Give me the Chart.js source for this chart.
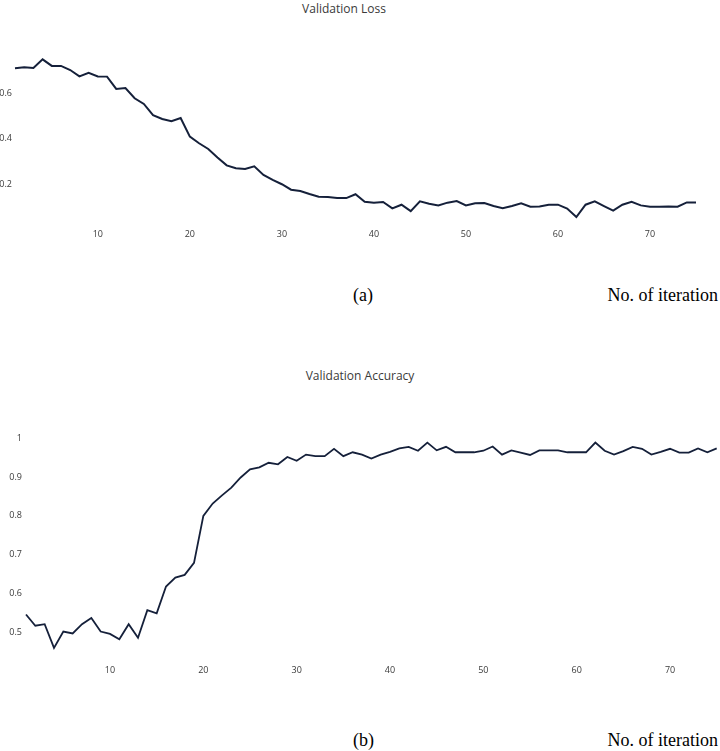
<!DOCTYPE html>
<html lang="en">
<head>
    <meta charset="UTF-8">
    <title>Validation Loss / Accuracy</title>
    <script src="https://cdn.jsdelivr.net/npm/chart.js"></script>
    <style>
        body { margin: 0; background: #fff; }
        .page { position: relative; width: 720px; height: 751px; overflow: hidden; }
        .page canvas { position: absolute; left: 0; }
        .title { position: absolute; transform: translate(-50%, -50%); font-family: "Open Sans", sans-serif; font-size: 12px; color: #3a3a3a; white-space: nowrap; }
        .caption { position: absolute; transform: translateY(-50%); font-family: "Liberation Serif", "Times New Roman", serif; font-size: 18px; color: #000; white-space: nowrap; }
    </style>
</head>
<body>
<div class="page">
    <div class="title" style="left:344px; top:8px;">Validation Loss</div>
    <canvas id="lossChart" width="720" height="250" style="top:0;"></canvas>
    <div class="caption" style="left:353px; top:295px;">(a)</div>
    <div class="caption" style="right:2px; top:295px;">No. of iteration</div>

    <div class="title" style="left:360px; top:375px;">Validation Accuracy</div>
    <canvas id="accChart" width="720" height="320" style="top:360px;"></canvas>
    <div class="caption" style="left:353px; top:740px;">(b)</div>
    <div class="caption" style="right:2px; top:740px;">No. of iteration</div>
</div>

<script>
    // valeurs
    const lossValues = [0.709, 0.713, 0.71, 0.748, 0.719, 0.719, 0.701, 0.673, 0.689, 0.673,
        0.672, 0.618, 0.622, 0.577, 0.552, 0.503, 0.486, 0.476, 0.49, 0.408,
        0.379, 0.354, 0.317, 0.282, 0.269, 0.266, 0.278, 0.24, 0.218, 0.199,
        0.175, 0.169, 0.156, 0.144, 0.143, 0.138, 0.138, 0.155, 0.122, 0.118,
        0.121, 0.093, 0.109, 0.081, 0.124, 0.113, 0.106, 0.118, 0.125, 0.106,
        0.115, 0.116, 0.103, 0.094, 0.103, 0.115, 0.1, 0.101, 0.109, 0.109,
        0.092, 0.055, 0.109, 0.124, 0.103, 0.083, 0.109, 0.122, 0.106, 0.1,
        0.1, 0.101, 0.1, 0.119, 0.119];

    const accValues = [0.546, 0.517, 0.521, 0.46, 0.502, 0.497, 0.521, 0.537, 0.502, 0.496,
        0.482, 0.521, 0.486, 0.557, 0.549, 0.618, 0.641, 0.648, 0.679, 0.8,
        0.832, 0.853, 0.873, 0.899, 0.92, 0.925, 0.937, 0.933, 0.952, 0.942,
        0.958, 0.954, 0.954, 0.973, 0.954, 0.964, 0.958, 0.948, 0.958, 0.965,
        0.974, 0.978, 0.968, 0.989, 0.969, 0.978, 0.964, 0.964, 0.964, 0.968,
        0.979, 0.958, 0.969, 0.963, 0.957, 0.969, 0.969, 0.969, 0.964, 0.964,
        0.964, 0.989, 0.968, 0.958, 0.967, 0.978, 0.973, 0.958, 0.965, 0.973,
        0.963, 0.963, 0.974, 0.964, 0.974];

    const xTicks = [10, 20, 30, 40, 50, 60, 70];
    const lossTicks = [0.2, 0.4, 0.6];
    const accTicks = [0.5, 0.6, 0.7, 0.8, 0.9, 1];

    const tickFont = { family: '"Open Sans", sans-serif', size: 9 };
    const tickColor = '#3a3a3a';

    function toPoints(values) {
        return values.map((v, i) => ({ x: i + 1, y: v }));
    }

    function makeChart(id, values, yTicks, opts) {
        const ctx = document.getElementById(id).getContext('2d');
        return new Chart(ctx, {
            type: 'line',
            data: {
                datasets: [{
                    data: toPoints(values),
                    borderColor: '#15203a',
                    borderWidth: opts.lineWidth,
                    pointRadius: 0,
                    tension: 0,
                    clip: false
                }]
            },
            options: {
                responsive: false,
                devicePixelRatio: 1,
                animation: false,
                layout: { padding: { top: opts.top, right: opts.right, left: 0, bottom: 0 } },
                plugins: { legend: { display: false }, tooltip: { enabled: false } },
                scales: {
                    x: {
                        type: 'linear',
                        min: 1,
                        max: values.length,
                        afterBuildTicks: s => { s.ticks = xTicks.map(v => ({ value: v })); },
                        afterFit: s => { s.height = opts.xHeight; },
                        ticks: { font: tickFont, color: tickColor, padding: opts.xPad, maxRotation: 0 },
                        grid: { display: false, drawTicks: false },
                        border: { display: false }
                    },
                    y: {
                        min: opts.yMin,
                        max: opts.yMax,
                        afterBuildTicks: s => { s.ticks = yTicks.map(v => ({ value: v })); },
                        afterFit: s => { s.width = opts.yWidth; },
                        ticks: { font: tickFont, color: tickColor, padding: opts.yPad, callback: v => String(v) },
                        grid: { display: false, drawTicks: false },
                        border: { display: false }
                    }
                }
            }
        });
    }

    // (a) perte
    makeChart('lossChart', lossValues, lossTicks, {
        top: 47.5, right: 24, xHeight: 20.5, xPad: 0, yWidth: 15, yPad: 3,
        yMin: 0, yMax: 0.8, lineWidth: 2
    });

    // (b) précision
    makeChart('accChart', accValues, accTicks, {
        top: 58.9, right: 3.3, xHeight: 20.5, xPad: 6, yWidth: 26, yPad: 4,
        yMin: 0.43, yMax: 1.05, lineWidth: 1.8
    });
</script>
</body>
</html>
